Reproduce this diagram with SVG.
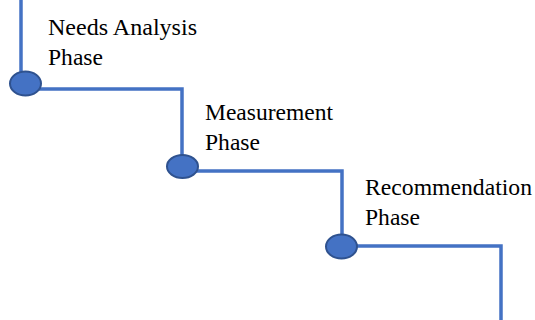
<svg xmlns="http://www.w3.org/2000/svg" width="535" height="320" viewBox="0 0 535 320">
<style>
.ln{fill:none;stroke:#4472C4;stroke-width:3.5;stroke-linejoin:miter}
.dot{fill:#4472C4;stroke:#2F528F;stroke-width:2}
text{font-family:"Liberation Serif","Times New Roman",Tinos,"DejaVu Serif","Noto Serif",serif;font-size:23.5px;fill:#000}
</style>
<rect width="535" height="320" fill="#fff"/>
<g id="connectors">
<path class="ln" d="M21,0 V83"/>
<path class="ln" d="M25,89 H182 V166"/>
<path class="ln" d="M182,171 H342 V246"/>
<path class="ln" d="M341,246 H501 V320"/>
</g>
<g id="needs-analysis">
<ellipse class="dot" cx="25.5" cy="83.5" rx="15.5" ry="12"/>
<text x="48" y="35" textLength="149" lengthAdjust="spacingAndGlyphs">Needs Analysis</text>
<text x="48" y="65" textLength="55" lengthAdjust="spacingAndGlyphs">Phase</text>
</g>
<g id="measurement">
<ellipse class="dot" cx="182.5" cy="166.5" rx="15.5" ry="11.5"/>
<text x="205" y="120" textLength="128" lengthAdjust="spacingAndGlyphs">Measurement</text>
<text x="205" y="150" textLength="55" lengthAdjust="spacingAndGlyphs">Phase</text>
</g>
<g id="recommendation">
<ellipse class="dot" cx="341.5" cy="246.5" rx="15.5" ry="12"/>
<text x="365" y="195" textLength="167" lengthAdjust="spacingAndGlyphs">Recommendation</text>
<text x="365" y="225" textLength="55" lengthAdjust="spacingAndGlyphs">Phase</text>
</g>
</svg>
